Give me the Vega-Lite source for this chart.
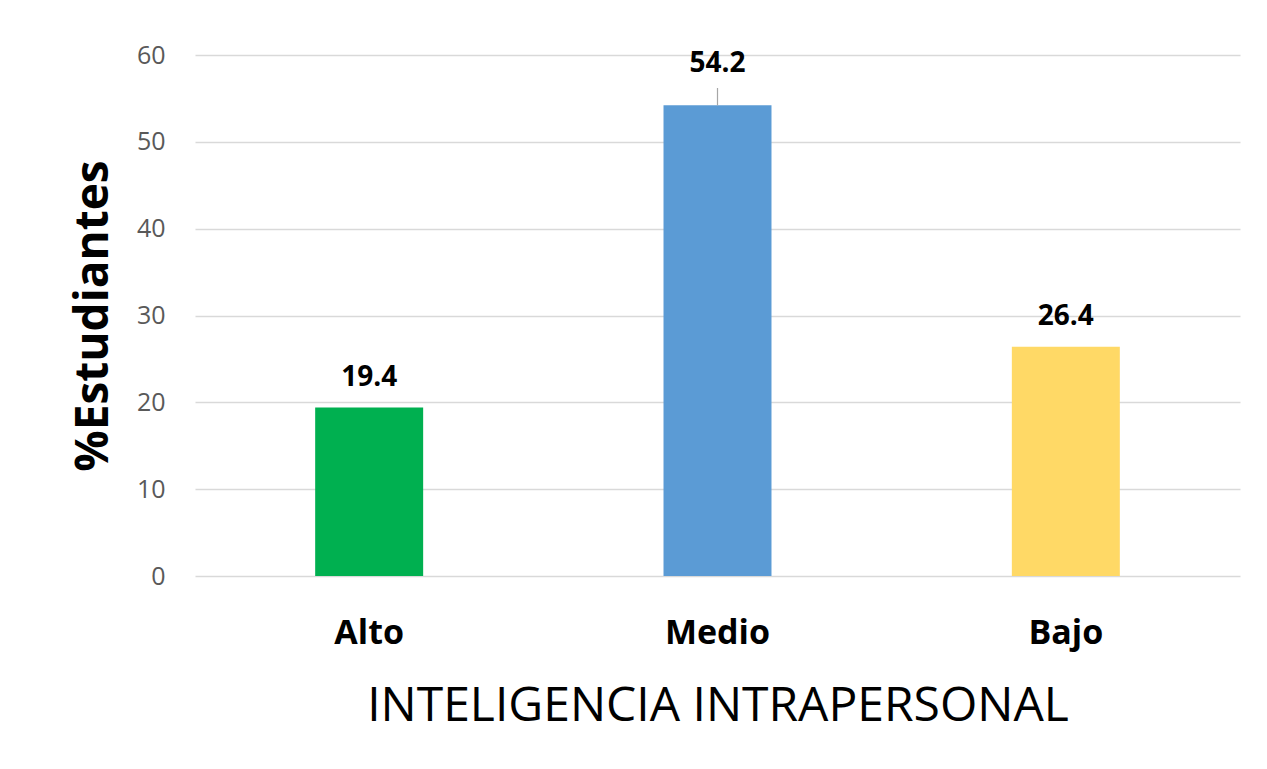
{
  "$schema": "https://vega.github.io/schema/vega-lite/v6.json",
  "autosize": "none",
  "width": 1045,
  "height": 521,
  "padding": {"left": 195, "top": 55, "right": 27, "bottom": 193},
  "background": "white",
  "config": {"view": {"stroke": null}, "font": "Open Sans"},
  "data": {"values": [
    {"nivel": "Alto", "pct": 19.4},
    {"nivel": "Medio", "pct": 54.2},
    {"nivel": "Bajo", "pct": 26.4}
  ]},
  "encoding": {
    "x": {
      "field": "nivel", "type": "nominal", "sort": ["Alto", "Medio", "Bajo"],
      "scale": {"paddingInner": 0.69, "paddingOuter": 0.345},
      "axis": {
        "title": "INTELIGENCIA INTRAPERSONAL", "titleFont": "Open Sans", "titleFontSize": 48, "titleFontWeight": "normal", "titleColor": "#000000", "titlePadding": 32,
        "labelFont": "Open Sans", "labelFontSize": 34, "labelFontWeight": "bold", "labelColor": "#000000", "labelPadding": 40, "labelAngle": 0,
        "domain": false, "ticks": false, "grid": false
      }
    },
    "y": {
      "field": "pct", "type": "quantitative",
      "scale": {"domain": [0, 60]},
      "axis": {
        "values": [0, 10, 20, 30, 40, 50, 60],
        "title": "%Estudiantes", "titleFont": "Open Sans", "titleFontSize": 46, "titleFontWeight": "bold", "titleColor": "#000000", "titlePadding": 19,
        "labelFont": "Open Sans", "labelFontSize": 25, "labelColor": "#595959", "labelPadding": 30,
        "domain": false, "ticks": false, "grid": true, "gridColor": "#d9d9d9", "gridWidth": 1.5
      }
    }
  },
  "layer": [
    {
      "mark": {"type": "bar"},
      "encoding": {
        "color": {
          "field": "nivel", "type": "nominal", "legend": null,
          "scale": {"domain": ["Alto", "Medio", "Bajo"], "range": ["#00B050", "#5B9BD5", "#FFD966"]}
        }
      }
    },
    {
      "transform": [{"filter": "datum.nivel !== 'Medio'"}],
      "mark": {"type": "text", "font": "Open Sans", "fontSize": 28, "fontWeight": "bold", "color": "#000000", "baseline": "middle", "dy": -30},
      "encoding": {"text": {"field": "pct", "type": "quantitative", "format": ".1f"}}
    },
    {
      "transform": [{"filter": "datum.nivel === 'Medio'"}],
      "mark": {"type": "text", "font": "Open Sans", "fontSize": 28, "fontWeight": "bold", "color": "#000000", "baseline": "middle", "dy": -41},
      "encoding": {"text": {"field": "pct", "type": "quantitative", "format": ".1f"}}
    },
    {
      "transform": [{"filter": "datum.nivel === 'Medio'"}],
      "mark": {"type": "rule", "color": "#a6a6a6", "strokeWidth": 1.2},
      "encoding": {"y2": {"datum": 56.2}}
    }
  ]
}
